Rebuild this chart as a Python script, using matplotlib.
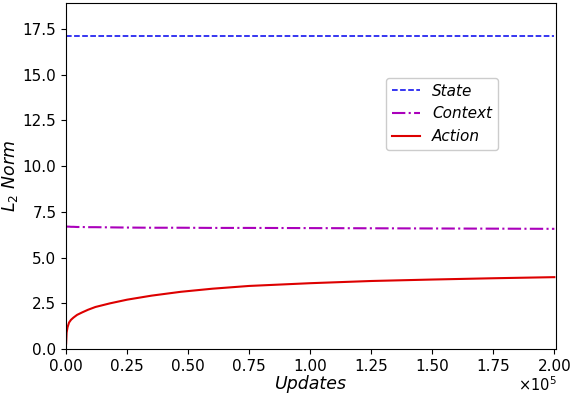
import matplotlib
matplotlib.use("Agg")
import matplotlib.pyplot as plt
from matplotlib.ticker import FuncFormatter

updates = [0, 200, 600, 1200, 2000, 3000, 4500, 6500, 9000, 12000, 18000, 25000,
           35000, 47000, 60000, 75000, 100000, 125000, 150000, 175000, 200000]
action = [0.3, 0.9, 1.2, 1.45, 1.6, 1.72, 1.87, 2.0, 2.15, 2.3, 2.5, 2.7,
          2.92, 3.13, 3.3, 3.45, 3.6, 3.72, 3.8, 3.87, 3.93]
state = [17.1] * len(updates)
context = [6.7, 6.7, 6.69, 6.69, 6.68, 6.68, 6.67, 6.67, 6.66, 6.66, 6.65, 6.64,
           6.63, 6.63, 6.62, 6.62, 6.61, 6.6, 6.59, 6.58, 6.57]
x_scale_label = r'$\times10^{5}$'

plt.rcParams['mathtext.fontset'] = 'dejavusans'
fig = plt.figure(figsize=(5.7, 3.94), dpi=100)
ax = fig.add_axes([0.116, 0.114, 0.86, 0.878])

ax.plot(updates, state, '--', color='#0000ee', lw=1.1, label='State')
ax.plot(updates, context, '-.', color='#aa00bb', lw=1.5, label='Context')
ax.plot(updates, action, '-', color='#dd0000', lw=1.5, label='Action')

ax.set_xlim(0, 2.008e5)
ax.set_ylim(0, 18.9)
ax.set_yticks([0, 2.5, 5, 7.5, 10, 12.5, 15, 17.5])
ax.set_xticks([0, 25000, 50000, 75000, 100000, 125000, 150000, 175000, 200000])
ax.xaxis.set_major_formatter(FuncFormatter(lambda v, p: f'{v / 1e5:.2f}'))
ax.tick_params(labelsize=11)
ax.text(1.0, -0.075, x_scale_label, transform=ax.transAxes, ha='right', va='top',
        fontsize=10.5)
ax.set_xlabel('Updates', fontsize=12.5, style='italic', labelpad=1)
ax.set_ylabel('$L_2$ Norm', fontsize=12.5, style='italic', labelpad=2)

leg = ax.legend(loc='upper left', bbox_to_anchor=(0.653, 0.785), borderaxespad=0,
                prop={'style': 'italic', 'size': 11}, framealpha=1,
                edgecolor='#cccccc', handlelength=1.8)

fig.savefig('out.png', dpi=100)
